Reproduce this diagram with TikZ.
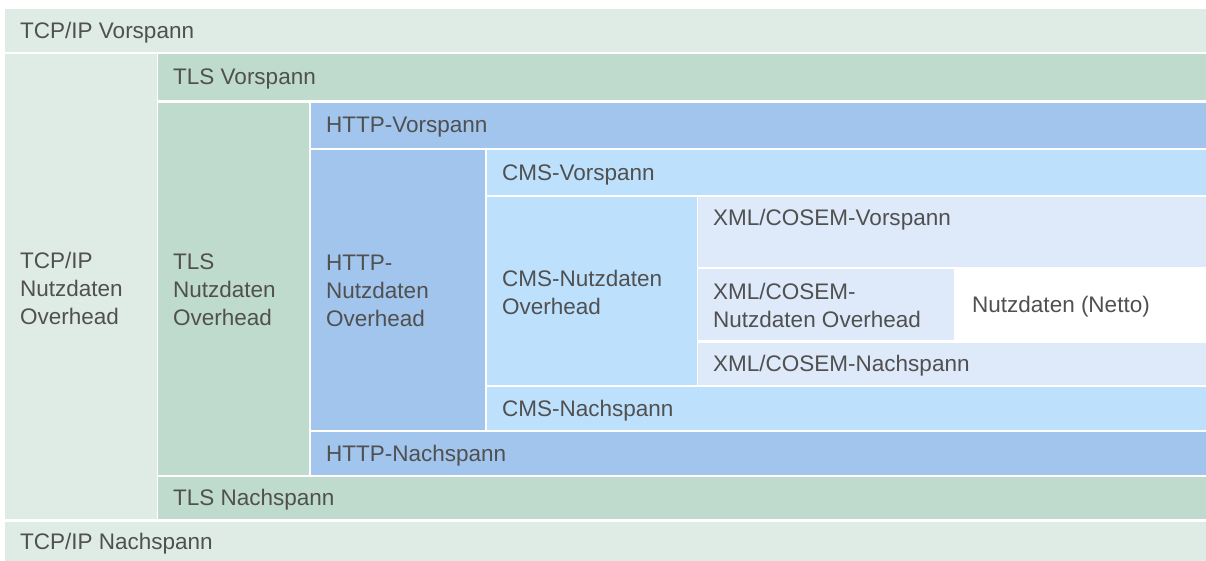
\documentclass[tikz,border=0pt]{standalone}
\usepackage{fontspec}
\setmainfont{Liberation Sans}
\definecolor{tcpc}{HTML}{DEECE5}
\definecolor{tlsc}{HTML}{BFDBCD}
\definecolor{httpc}{HTML}{A1C5EC}
\definecolor{cmsc}{HTML}{BDE1FD}
\definecolor{xmlc}{HTML}{DEEAF9}
\definecolor{txtc}{HTML}{505050}
\begin{document}
\begin{tikzpicture}[x=1pt,y=-1pt,
  box/.style={anchor=north west, draw=none, inner sep=0pt, outer sep=0pt},
  lbl/.style={inner sep=0pt, align=left, text=txtc, font=\fontsize{22.5pt}{28pt}\selectfont}]
\useasboundingbox[fill=white] (0,0) rectangle (1206,561);
% boxes
\node[box, fill=tcpc, minimum width=1201pt, minimum height=43pt] (tcpv) at (5,9) {};
\node[box, fill=tcpc, minimum width=152pt, minimum height=465pt] (tcpo) at (5,54) {};
\node[box, fill=tlsc, minimum width=1048pt, minimum height=46pt] (tlsv) at (158,54) {};
\node[box, fill=tlsc, minimum width=151pt, minimum height=372pt] (tlso) at (158,103) {};
\node[box, fill=httpc, minimum width=895pt, minimum height=45pt] (httpv) at (311,103) {};
\node[box, fill=httpc, minimum width=174pt, minimum height=280pt] (httpo) at (311,150) {};
\node[box, fill=cmsc, minimum width=719pt, minimum height=45pt] (cmsv) at (487,150) {};
\node[box, fill=cmsc, minimum width=210pt, minimum height=188pt] (cmso) at (487,197) {};
\node[box, fill=xmlc, minimum width=508pt, minimum height=70pt] (xmlv) at (698,197) {};
\node[box, fill=xmlc, minimum width=256pt, minimum height=71pt] (xmlo) at (698,269) {};
\node[box, fill=white, minimum width=251pt, minimum height=71pt] (netto) at (955,269) {};
\node[box, fill=xmlc, minimum width=508pt, minimum height=42pt] (xmln) at (698,343) {};
\node[box, fill=cmsc, minimum width=719pt, minimum height=43pt] (cmsn) at (487,387) {};
\node[box, fill=httpc, minimum width=895pt, minimum height=43pt] (httpn) at (311,432) {};
\node[box, fill=tlsc, minimum width=1048pt, minimum height=42pt] (tlsn) at (158,477) {};
\node[box, fill=tcpc, minimum width=1201pt, minimum height=39pt] (tcpn) at (5,522) {};
% labels
\node[lbl, anchor=west] (tcpv-t) at ([xshift=15pt,yshift=-2pt]tcpv.west) {TCP/IP Vorspann};
\node[lbl, anchor=west] (tcpo-t) at ([xshift=15pt,yshift=-1.5pt]tcpo.west) {TCP/IP\\Nutzdaten\\Overhead};
\node[lbl, anchor=west] (tlsv-t) at ([xshift=15pt,yshift=-2pt]tlsv.west) {TLS Vorspann};
\node[lbl, anchor=west] (tlso-t) at ([xshift=15pt,yshift=-1pt]tlso.west) {TLS\\Nutzdaten\\Overhead};
\node[lbl, anchor=west] (httpv-t) at ([xshift=15pt,yshift=-2pt]httpv.west) {HTTP-Vorspann};
\node[lbl, anchor=west] (httpo-t) at ([xshift=15pt,yshift=-1pt]httpo.west) {HTTP-\\Nutzdaten\\Overhead};
\node[lbl, anchor=west] (cmsv-t) at ([xshift=15pt,yshift=-2pt]cmsv.west) {CMS-Vorspann};
\node[lbl, anchor=west] (cmso-t) at ([xshift=15pt,yshift=-1pt]cmso.west) {CMS-Nutzdaten\\Overhead};
\node[lbl, anchor=west] (xmlv-t) at ([xshift=15pt,yshift=-23pt]xmlv.north west) {XML/COSEM-Vorspann};
\node[lbl, anchor=west] (xmlo-t) at ([xshift=15pt,yshift=-0.5pt]xmlo.west) {XML/COSEM-\\Nutzdaten Overhead};
\node[lbl, anchor=west] (netto-t) at ([xshift=17pt,yshift=-2pt]netto.west) {Nutzdaten (Netto)};
\node[lbl, anchor=west] (xmln-t) at ([xshift=15pt,yshift=-2pt]xmln.west) {XML/COSEM-Nachspann};
\node[lbl, anchor=west] (cmsn-t) at ([xshift=15pt,yshift=-2pt]cmsn.west) {CMS-Nachspann};
\node[lbl, anchor=west] (httpn-t) at ([xshift=15pt,yshift=-2pt]httpn.west) {HTTP-Nachspann};
\node[lbl, anchor=west] (tlsn-t) at ([xshift=15pt,yshift=-2pt]tlsn.west) {TLS Nachspann};
\node[lbl, anchor=west] (tcpn-t) at ([xshift=15pt,yshift=-2pt]tcpn.west) {TCP/IP Nachspann};
\end{tikzpicture}
\end{document}
